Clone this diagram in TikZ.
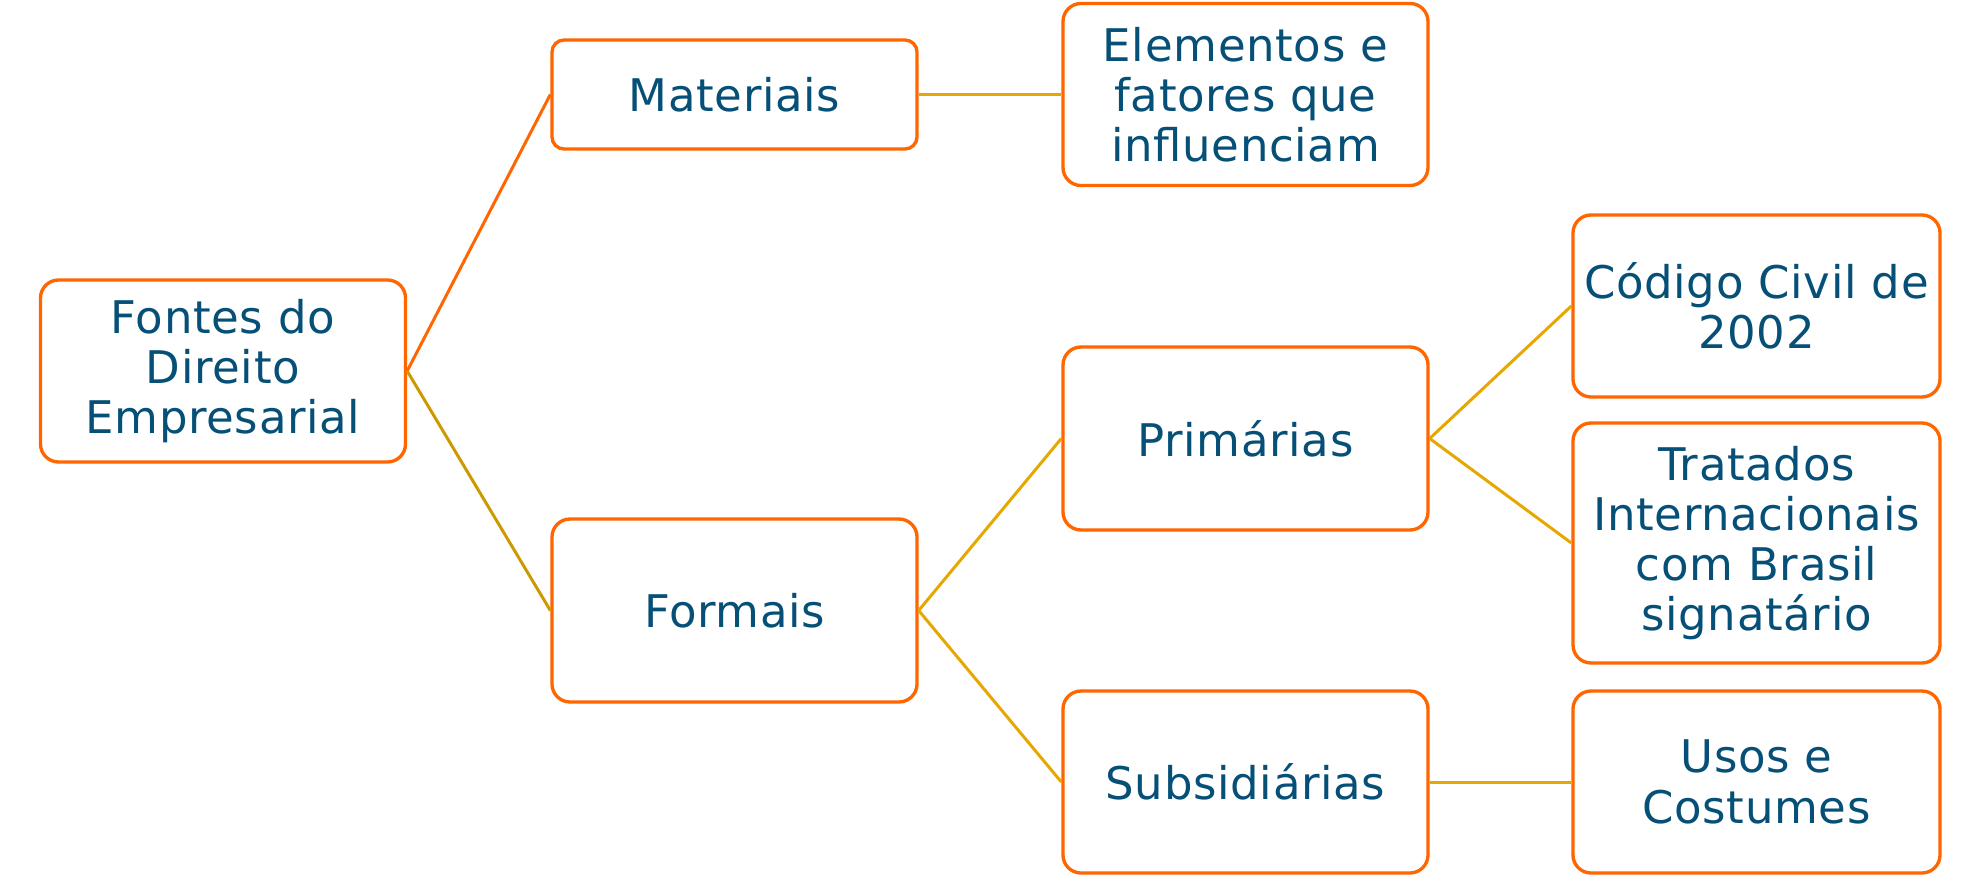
\documentclass[tikz,border=0pt]{standalone}
\usepackage{fontspec}
\setmainfont{DejaVu Sans}[LetterSpace=1.5]
\definecolor{boxorange}{RGB}{255,102,0}
\definecolor{boxtext}{RGB}{6,80,120}
\definecolor{linegold}{RGB}{230,168,0}
\definecolor{linedark}{RGB}{204,153,0}
\begin{document}
\begin{tikzpicture}[
  box/.style={draw=boxorange, line width=0.95pt, rounded corners=0.18cm, fill=white,
    text=boxtext, align=center, minimum width=3.65cm, minimum height=1.82cm,
    inner sep=0pt, font=\fontsize{12.8}{14.3}\selectfont},
  link/.style={linegold, line width=0.85pt}
]
\useasboundingbox (0,0) rectangle (19.8,-8.75);
\node[box] (a) at (2.23,-3.71) {Fontes do\\Direito\\Empresarial};
\node[box, minimum height=1.09cm, rounded corners=0.12cm] (b) at (7.345,-0.945) {Materiais};
\node[box] (c) at (12.455,-0.945) {Elementos e\\fatores que\\influenciam};
\node[box, minimum height=1.83cm] (d) at (7.345,-6.105) {Formais};
\node[box, minimum height=1.83cm] (e) at (12.455,-4.385) {Primárias};
\node[box] (f) at (12.455,-7.82) {Subsidiárias};
\node[box, minimum width=3.67cm] (g) at (17.565,-3.06) {Código Civil de\\2002};
\node[box, minimum width=3.67cm, minimum height=2.4cm] (h) at (17.565,-5.43) {Tratados\\Internacionais\\com Brasil\\signatário};
\node[box, minimum width=3.67cm] (i) at (17.565,-7.82) {Usos e\\Costumes};
\draw[boxorange, line width=0.85pt] (a.east) -- (b.west);
\draw[linedark, line width=0.85pt] (a.east) -- (d.west);
\draw[link] (b) -- (c);
\draw[link] (d.east) -- (e.west);
\draw[link] (d.east) -- (f.west);
\draw[link] (e.east) -- (g.west);
\draw[link] (e.east) -- (h.west);
\draw[link] (f) -- (i);
\end{tikzpicture}
\end{document}
